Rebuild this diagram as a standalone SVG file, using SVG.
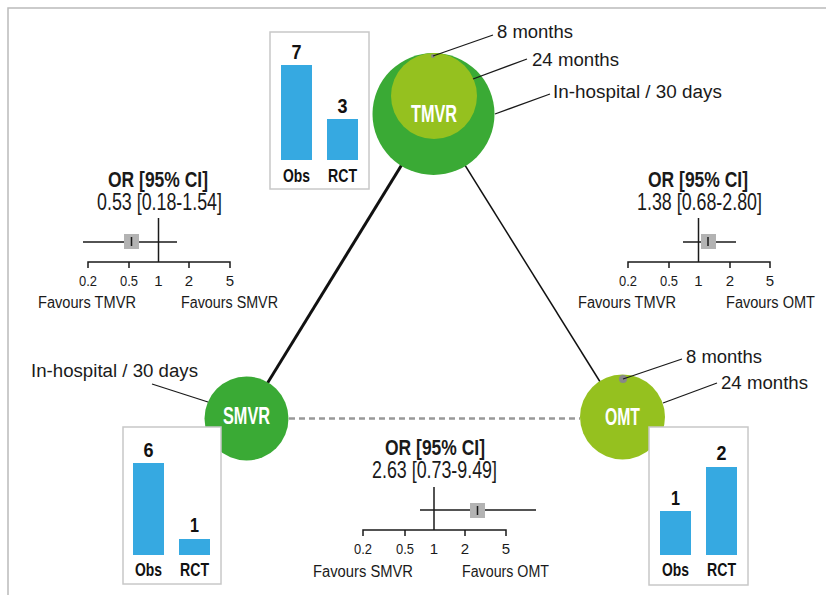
<svg xmlns="http://www.w3.org/2000/svg" width="826" height="595" viewBox="0 0 826 595">
<style>
.lbl{font-family:"Liberation Sans",Arial,sans-serif;font-size:18px;fill:#1a1a1a}
.fav{font-family:"Liberation Sans",Arial,sans-serif;font-size:16px;fill:#1a1a1a}
.cond{font-family:"Liberation Sans",Arial,sans-serif;font-size:24px;fill:#1a1a1a}
.ttl{font-family:"Liberation Sans",Arial,sans-serif;font-size:22px;font-weight:bold;fill:#1a1a1a}
.tick{font-family:"Liberation Sans",Arial,sans-serif;font-size:15px;fill:#1a1a1a;text-anchor:middle}
.num{font-family:"Liberation Sans",Arial,sans-serif;font-size:20px;font-weight:bold;fill:#111;text-anchor:middle}
.bl{font-family:"Liberation Sans",Arial,sans-serif;font-size:18px;font-weight:bold;fill:#111;text-anchor:middle}
.node{font-family:"Liberation Sans",Arial,sans-serif;font-size:23px;font-weight:bold;fill:#fff;text-anchor:middle}
.lead{stroke:#1a1a1a;stroke-width:1.3;fill:none}
.ax{stroke:#1a1a1a;stroke-width:1.5;fill:none}
.box{fill:#fff;stroke:#c8c8c8;stroke-width:1.5}
.bar{fill:#36a9e1}
.sq{fill:#b3b3b3}
</style>
<path d="M8 595 V8 H826" fill="none" stroke="#bbbbbb" stroke-width="1.5"/>

<g id="connectors">
<line x1="433" y1="114" x2="246" y2="418" stroke="#111" stroke-width="3"/>
<line x1="433" y1="114" x2="622" y2="417" stroke="#111" stroke-width="1.5"/>
<line x1="289" y1="418.5" x2="580" y2="418.5" stroke="#999" stroke-width="2.5" stroke-dasharray="6 4"/>
</g>

<g id="node-tmvr">
<circle cx="433.5" cy="114" r="61" fill="#3aaa35"/>
<circle cx="434" cy="96" r="43" fill="#95c11f"/>
<circle cx="433" cy="56" r="2" fill="#888"/>
<text class="node" x="434" y="122" textLength="46" lengthAdjust="spacingAndGlyphs">TMVR</text>
<line class="lead" x1="433" y1="56" x2="493" y2="35"/>
<line class="lead" x1="473" y1="79" x2="527" y2="59"/>
<line class="lead" x1="495" y1="114" x2="550" y2="94"/>
<text class="lbl" x="497" y="38" textLength="76" lengthAdjust="spacingAndGlyphs">8 months</text>
<text class="lbl" x="532" y="66" textLength="87" lengthAdjust="spacingAndGlyphs">24 months</text>
<text class="lbl" x="553" y="98" textLength="169" lengthAdjust="spacingAndGlyphs">In-hospital / 30 days</text>
<rect class="box" x="270" y="32" width="99" height="157"/>
<rect class="bar" x="281" y="65" width="31" height="95"/>
<rect class="bar" x="327" y="119" width="31" height="41"/>
<text class="num" x="296.5" y="59" textLength="10" lengthAdjust="spacingAndGlyphs">7</text>
<text class="num" x="342.5" y="113" textLength="10" lengthAdjust="spacingAndGlyphs">3</text>
<text class="bl" x="296.5" y="182" textLength="27" lengthAdjust="spacingAndGlyphs">Obs</text>
<text class="bl" x="342.5" y="182" textLength="29" lengthAdjust="spacingAndGlyphs">RCT</text>
</g>

<g id="node-smvr">
<circle cx="246.5" cy="418.5" r="42" fill="#3aaa35"/>
<text class="node" x="246.5" y="424" textLength="47" lengthAdjust="spacingAndGlyphs">SMVR</text>
<line class="lead" x1="152" y1="384" x2="208" y2="402"/>
<text class="lbl" x="31" y="377" textLength="167" lengthAdjust="spacingAndGlyphs">In-hospital / 30 days</text>
<rect class="box" x="123" y="427" width="98" height="157"/>
<rect class="bar" x="133" y="463" width="31" height="92"/>
<rect class="bar" x="179" y="539" width="31" height="16"/>
<text class="num" x="148.5" y="457" textLength="10" lengthAdjust="spacingAndGlyphs">6</text>
<text class="num" x="194.5" y="532" textLength="9" lengthAdjust="spacingAndGlyphs">1</text>
<text class="bl" x="148.5" y="576" textLength="27" lengthAdjust="spacingAndGlyphs">Obs</text>
<text class="bl" x="194.5" y="576" textLength="29" lengthAdjust="spacingAndGlyphs">RCT</text>
</g>

<g id="node-omt">
<circle cx="622.5" cy="417" r="42.5" fill="#95c11f"/>
<circle cx="623" cy="379" r="4" fill="#888"/>
<text class="node" x="622.5" y="425" textLength="35" lengthAdjust="spacingAndGlyphs">OMT</text>
<line class="lead" x1="623" y1="379" x2="682" y2="359"/>
<line class="lead" x1="663" y1="403" x2="717" y2="383"/>
<text class="lbl" x="686" y="363" textLength="76" lengthAdjust="spacingAndGlyphs">8 months</text>
<text class="lbl" x="721" y="389" textLength="87" lengthAdjust="spacingAndGlyphs">24 months</text>
<rect class="box" x="649" y="427" width="99" height="158"/>
<rect class="bar" x="660" y="511" width="31" height="44"/>
<rect class="bar" x="706" y="467" width="31" height="88"/>
<text class="num" x="675.5" y="505" textLength="9" lengthAdjust="spacingAndGlyphs">1</text>
<text class="num" x="721.5" y="460" textLength="10" lengthAdjust="spacingAndGlyphs">2</text>
<text class="bl" x="675.5" y="576" textLength="27" lengthAdjust="spacingAndGlyphs">Obs</text>
<text class="bl" x="721.5" y="576" textLength="29" lengthAdjust="spacingAndGlyphs">RCT</text>
</g>

<g id="forest-tmvr-smvr">
<text class="ttl" x="108" y="187" textLength="100" lengthAdjust="spacingAndGlyphs">OR [95% CI]</text>
<text class="cond" x="97" y="210" textLength="125" lengthAdjust="spacingAndGlyphs">0.53 [0.18-1.54]</text>
<line class="ax" x1="83" y1="242" x2="177" y2="242"/>
<rect class="sq" x="124" y="234" width="15" height="15"/>
<line class="ax" x1="131.5" y1="237" x2="131.5" y2="246"/>
<line class="ax" x1="158.5" y1="218" x2="158.5" y2="262"/>
<path class="ax" d="M88 268 V262 H230 V268 M129 262 V268 M189 262 V268"/>
<text class="tick" x="88" y="286" textLength="18" lengthAdjust="spacingAndGlyphs">0.2</text>
<text class="tick" x="129" y="286" textLength="18" lengthAdjust="spacingAndGlyphs">0.5</text>
<text class="tick" x="158.5" y="286">1</text>
<text class="tick" x="189" y="286">2</text>
<text class="tick" x="230" y="286">5</text>
<text class="fav" x="38" y="308" textLength="98" lengthAdjust="spacingAndGlyphs">Favours TMVR</text>
<text class="fav" x="181" y="308" textLength="97" lengthAdjust="spacingAndGlyphs">Favours SMVR</text>
</g>

<g id="forest-tmvr-omt">
<text class="ttl" x="648" y="187" textLength="100" lengthAdjust="spacingAndGlyphs">OR [95% CI]</text>
<text class="cond" x="637" y="210" textLength="125" lengthAdjust="spacingAndGlyphs">1.38 [0.68-2.80]</text>
<line class="ax" x1="683" y1="242" x2="736" y2="242"/>
<rect class="sq" x="701" y="234" width="15" height="15"/>
<line class="ax" x1="708" y1="237" x2="708" y2="246"/>
<line class="ax" x1="698.5" y1="218" x2="698.5" y2="262"/>
<path class="ax" d="M628 268 V262 H770 V268 M669 262 V268 M730 262 V268"/>
<text class="tick" x="628" y="286" textLength="18" lengthAdjust="spacingAndGlyphs">0.2</text>
<text class="tick" x="669" y="286" textLength="18" lengthAdjust="spacingAndGlyphs">0.5</text>
<text class="tick" x="698.5" y="286">1</text>
<text class="tick" x="730" y="286">2</text>
<text class="tick" x="770" y="286">5</text>
<text class="fav" x="578" y="308" textLength="98" lengthAdjust="spacingAndGlyphs">Favours TMVR</text>
<text class="fav" x="726" y="308" textLength="89" lengthAdjust="spacingAndGlyphs">Favours OMT</text>
</g>

<g id="forest-smvr-omt">
<text class="ttl" x="385" y="455" textLength="100" lengthAdjust="spacingAndGlyphs">OR [95% CI]</text>
<text class="cond" x="372" y="478" textLength="125" lengthAdjust="spacingAndGlyphs">2.63 [0.73-9.49]</text>
<line class="ax" x1="420" y1="510" x2="536" y2="510"/>
<rect class="sq" x="470" y="503" width="15" height="15"/>
<line class="ax" x1="477.5" y1="506" x2="477.5" y2="515"/>
<line class="ax" x1="434" y1="487" x2="434" y2="530"/>
<path class="ax" d="M363 536 V530 H506 V536 M405 530 V536 M465 530 V536"/>
<text class="tick" x="363" y="554" textLength="18" lengthAdjust="spacingAndGlyphs">0.2</text>
<text class="tick" x="405" y="554" textLength="18" lengthAdjust="spacingAndGlyphs">0.5</text>
<text class="tick" x="434" y="554">1</text>
<text class="tick" x="465" y="554">2</text>
<text class="tick" x="506" y="554">5</text>
<text class="fav" x="313" y="577" textLength="100" lengthAdjust="spacingAndGlyphs">Favours SMVR</text>
<text class="fav" x="462" y="577" textLength="87" lengthAdjust="spacingAndGlyphs">Favours OMT</text>
</g>
</svg>
